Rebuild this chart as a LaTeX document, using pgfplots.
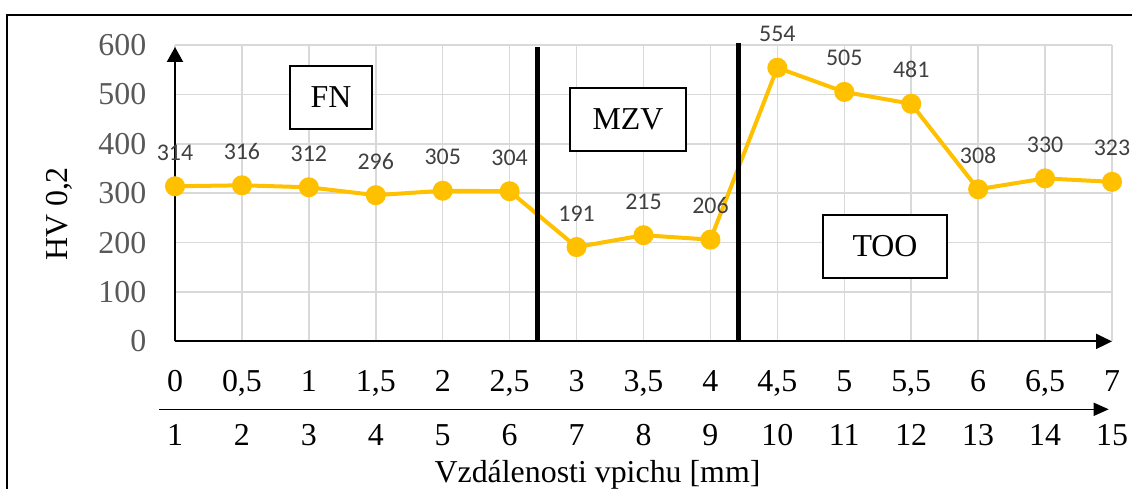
\documentclass[border=0pt]{standalone}
\usepackage{pgfplots}
\pgfplotsset{compat=1.18}
\usepackage{fontspec}
\setmainfont{Liberation Serif}
\newfontfamily\lblfont{Carlito}
\usetikzlibrary{arrows.meta}
\definecolor{gold}{HTML}{FFC000}
\definecolor{gridc}{HTML}{D9D9D9}
\definecolor{ytl}{HTML}{595959}
\definecolor{dl}{HTML}{404040}
\begin{document}
\begin{tikzpicture}[x=1bp,y=1bp]
\useasboundingbox (0,0) rectangle (1132,-489);
\draw[line width=2bp] (7.3,-489) -- (7.3,-15) -- (1132,-15);
\begin{axis}[
  at={(175bp,-341.4bp)}, anchor=south west,
  scale only axis, width=937bp, height=296.4bp,
  xmin=0, xmax=7, ymin=0, ymax=600,
  clip=false,
  axis line style={draw=none},
  tick style={draw=none},
  grid=major,
  grid style={gridc, line width=1.5bp},
  xtick={0,0.5,1,1.5,2,2.5,3,3.5,4,4.5,5,5.5,6,6.5,7},
  xticklabels={0,{0,5},1,{1,5},2,{2,5},3,{3,5},4,{4,5},5,{5,5},6,{6,5},7},
  ytick={0,100,200,300,400,500,600},
  yticklabels={0,100,200,300,400,500,600},
  xticklabel style={font=\fontsize{32}{32}\selectfont, text=black, inner sep=0pt, anchor=north, yshift=-28.6bp},
  yticklabel style={font=\fontsize{32}{32}\selectfont, text=ytl, inner sep=0pt, anchor=east, xshift=-28.5bp},
]
\addplot[gold, line width=4bp, mark=*, mark size=8bp, mark options={gold, solid},
  nodes near coords, point meta=explicit symbolic,
  every node near coord/.append style={font=\lblfont\fontsize{24}{24}\selectfont, text=dl, inner sep=0pt, anchor=south, yshift=24bp}]
coordinates {
(0,314)[314] (0.5,316)[316] (1,312)[312] (1.5,296)[296] (2,305)[305]
(2.5,304)[304] (3,191)[191] (3.5,215)[215] (4,206)[206] (4.5,554)[554]
(5,505)[505] (5.5,481)[481] (6,308)[308] (6.5,330)[330] (7,323)[323]
};
\draw[line width=5bp] (axis cs:2.71,0) -- (axis cs:2.71,596);
\draw[line width=5bp] (axis cs:4.213,0) -- (axis cs:4.213,604);
\draw[line width=2bp, -{Triangle[length=16bp,width=15bp]}] (axis cs:0,0) -- (axis cs:7,0);
\draw[line width=2bp, -{Triangle[length=15bp,width=16bp]}] (axis cs:0,0) -- (axis cs:0,596);
\node[draw, line width=2bp, fill=white, minimum width=82bp, minimum height=63bp, inner sep=0pt, font=\fontsize{32}{32}\selectfont] at (axis cs:1.165,493.7) {FN};
\node[draw, line width=2bp, fill=white, minimum width=116bp, minimum height=63bp, inner sep=0pt, font=\fontsize{32}{32}\selectfont] at (axis cs:3.384,449.2) {MZV};
\node[draw, line width=2bp, fill=white, minimum width=124bp, minimum height=63bp, inner sep=0pt, font=\fontsize{32}{32}\selectfont] at (axis cs:5.304,192.1) {TOO};
\end{axis}
\draw[line width=1.5bp, -{Triangle[length=15bp,width=13bp]}] (159,-409.3) -- (1108.7,-409.3);
\foreach \i in {1,...,15} {
  \node[font=\fontsize{32}{32}\selectfont, inner sep=0pt, anchor=center] at ({175+(\i-1)*66.929},-435) {\i};
}
\node[anchor=base, inner sep=0pt, font=\fontsize{32}{32}\selectfont] at (597.5,-482) {Vzdálenosti vpichu [mm]};
\node[anchor=base, rotate=90, inner sep=0pt, font=\fontsize{32}{32}\selectfont] at (67,-214) {HV 0,2};
\end{tikzpicture}
\end{document}
